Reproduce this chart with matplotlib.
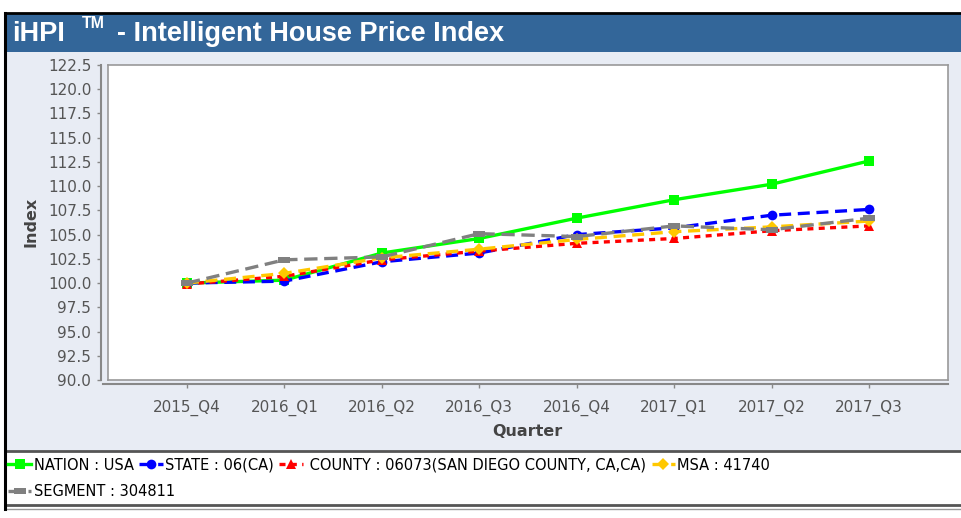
import matplotlib
matplotlib.use("Agg")
import matplotlib.pyplot as plt
from matplotlib.patches import Rectangle
from matplotlib.lines import Line2D
from matplotlib.path import Path

# values
quarters = ["2015_Q4", "2016_Q1", "2016_Q2", "2016_Q3",
            "2016_Q4", "2017_Q1", "2017_Q2", "2017_Q3"]
nation = [100.0, 100.3, 103.1, 104.6, 106.7, 108.6, 110.2, 112.6]
state = [100.0, 100.2, 102.2, 103.1, 105.0, 105.7, 107.0, 107.6]
county = [99.9, 100.7, 102.4, 103.3, 104.1, 104.6, 105.4, 105.9]
msa = [100.0, 101.0, 102.6, 103.5, 104.5, 105.3, 105.8, 106.4]
segment = [100.0, 102.4, 102.7, 105.1, 104.8, 105.9, 105.5, 106.7]

labels = ["NATION : USA", "STATE : 06(CA)",
          " COUNTY : 06073(SAN DIEGO COUNTY, CA,CA)", "MSA : 41740",
          "SEGMENT : 304811"]
yticks = [90.0 + 2.5 * i for i in range(14)]

W, H = 961, 518
fig = plt.figure(figsize=(W / 100, H / 100), dpi=100)
fig.patch.set_facecolor("white")


def fy(px):
    return 1 - px / H


def fx(px):
    return px / W


# background panels
fig.patches.append(Rectangle((fx(5), fy(451)), 1, fy(52) - fy(451),
                             transform=fig.transFigure, facecolor="#e8ecf4",
                             edgecolor="none", zorder=-2))
fig.patches.append(Rectangle((fx(5), fy(52)), 1, fy(13) - fy(52),
                             transform=fig.transFigure, facecolor="#336699",
                             edgecolor="none", zorder=-2))
for yy, c, lw in [(13, "black", 2), (451, "#555555", 2), (505, "#555555", 2), (509, "#999999", 1)]:
    fig.add_artist(Line2D([fx(5), 1], [fy(yy), fy(yy)], transform=fig.transFigure,
                          color=c, lw=lw))
fig.add_artist(Line2D([fx(5), fx(5)], [fy(13), fy(509)], transform=fig.transFigure,
                      color="black", lw=2.2))

# title
title_font = ["Liberation Sans Narrow", "Liberation Sans", "DejaVu Sans"]
fig.text(fx(12), fy(34), "iHPI", color="white", fontsize=19.5, fontweight="bold",
         family=title_font, va="center")
fig.text(fx(82), fy(24), "TM", color="white", fontsize=11.5, fontweight="bold",
         family=title_font, va="center")
fig.text(fx(117), fy(34), "- Intelligent House Price Index", color="white",
         fontsize=19.5, fontweight="bold", family=title_font, va="center")

ax = fig.add_axes([fx(108), fy(380), fx(948) - fx(108), fy(65) - fy(380)])
ax.set_facecolor("white")
ax.set_zorder(5)

x = range(len(quarters))
seg_marker = Path([(-1, -0.45), (1, -0.45), (1, 0.45), (-1, 0.45), (-1, -0.45)])
mk = dict(markeredgewidth=0)
l1, = ax.plot(x, nation, color="#00ff00", lw=2.4, marker="s", ms=6.5,
              label=labels[0], **mk)
l2, = ax.plot(x, state, color="#0000ff", lw=2.4, ls=(0, (3.6, 2.0)), marker="o",
              ms=7, label=labels[1], **mk)
l3, = ax.plot(x, county, color="#ff0000", lw=2.4, ls=(0, (1.8, 1.6)), marker="^",
              ms=7, label=labels[2], **mk)
l4, = ax.plot(x, msa, color="#ffc800", lw=2.4, ls=(0, (3.6, 2.0)), marker="D",
              ms=6, label=labels[3], **mk)
l5, = ax.plot(x, segment, color="#808080", lw=2.4, ls=(0, (4.0, 2.0)),
              marker=seg_marker, ms=9, label=labels[4], **mk)

ax.set_xlim(-0.81, 7.81)
ax.set_ylim(90, 122.5)
ax.set_yticks(yticks)
ax.set_yticklabels([f"{v:.1f}" for v in yticks])
ax.set_xticks(list(x))
ax.set_xticklabels(quarters)

for s in ["top", "right"]:
    ax.spines[s].set_color("#999999")
    ax.spines[s].set_linewidth(1.2)
ax.spines["left"].set_position(("outward", 5))
ax.spines["bottom"].set_position(("outward", 3))
ax.spines["left"].set_color("#888888")
ax.spines["bottom"].set_color("#888888")
ax.spines["left"].set_linewidth(1.5)
ax.spines["bottom"].set_linewidth(1.5)
ax.spines["bottom"].set_bounds(-0.86, 7.81)
ax.add_line(Line2D([0, 0], [0, 1], transform=ax.transAxes, color="#999999",
                   lw=1.2, clip_on=False))
ax.add_line(Line2D([0, 1], [0, 0], transform=ax.transAxes, color="#999999",
                   lw=1.2, clip_on=False))

ax.tick_params(axis="both", colors="#888888", labelcolor="#555555",
               labelsize=11, length=3, width=1)
ax.tick_params(axis="x", pad=8)
ax.tick_params(axis="y", pad=4)

fig.text(fx(31), fy(222), "Index", rotation=90, fontsize=11.5,
         fontweight="bold", color="#444444", ha="center", va="center")
fig.text(fx(527), fy(432), "Quarter", fontsize=11.5, fontweight="bold",
         color="#444444", ha="center", va="center")

leg_kw = dict(frameon=False, fontsize=10.5, handlelength=1.6,
              handletextpad=0.15, columnspacing=0.4, borderaxespad=0,
              borderpad=0)
fig.legend(handles=[l1, l2, l3, l4], ncol=4, loc="center left",
           bbox_to_anchor=(fx(8), fy(465)), **leg_kw)
fig.legend(handles=[l5], ncol=1, loc="center left",
           bbox_to_anchor=(fx(8), fy(492)), **leg_kw)

fig.savefig("out.png", dpi=100)
